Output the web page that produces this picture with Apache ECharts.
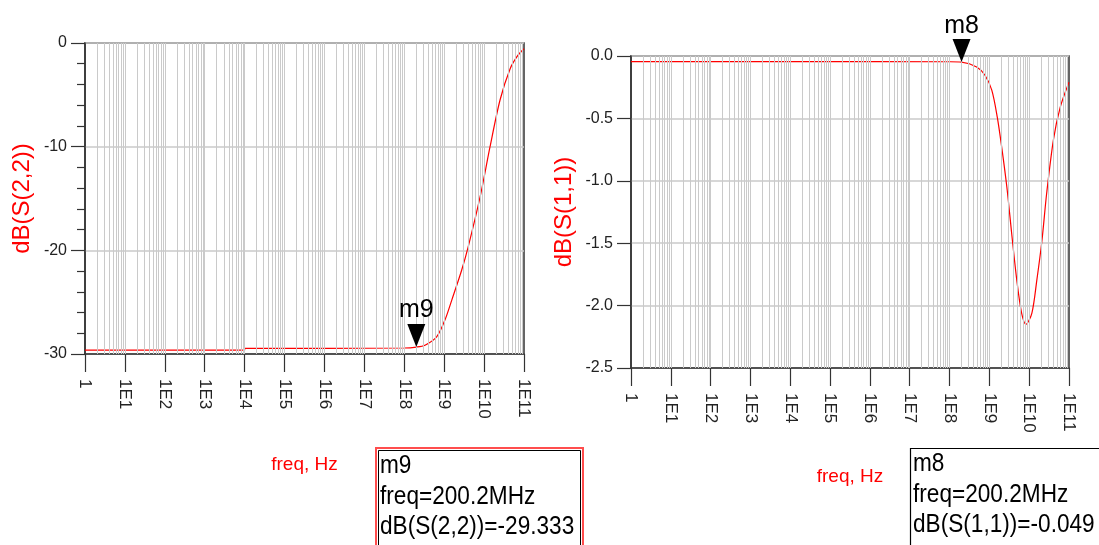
<!DOCTYPE html>
<html><head><meta charset="utf-8">
<script src="https://cdn.jsdelivr.net/npm/echarts@6/dist/echarts.min.js"></script>
<style>html,body{margin:0;padding:0;background:#fff}#c{width:1099px;height:545px}</style>
</head><body><div id="c"></div>
<script>
// ---- data ----
const decadeTicks = [1, 1e1, 1e2, 1e3, 1e4, 1e5, 1e6, 1e7, 1e8, 1e9, 1e10, 1e11];

// dB(S(2,2)) vs frequency (Hz)
const s22Freq = [1, 1e2, 1e4, 1.01e4, 1e6, 1e8, 2.002e8, 3.3e8, 6.46e8, 1.05e9, 1.55e9, 2.75e9, 3.98e9, 7.94e9, 1.41e10, 2.51e10, 4.47e10, 7e10, 1e11];
const s22dB   = [-29.62, -29.62, -29.62, -29.45, -29.45, -29.42, -29.333, -29.15, -28.35, -26.7, -24.8, -21.9, -19.7, -14.85, -10.0, -5.5, -2.5, -1.2, -0.55];

// dB(S(1,1)) vs frequency (Hz)
const s11Freq = [1, 1e4, 1e8, 2.002e8, 4.8e8, 7.76e8, 1.15e9, 1.58e9, 2.04e9, 2.75e9, 3.63e9, 4.9e9, 6.46e9, 8.3e9, 1.17e10, 1.55e10, 2.09e10, 2.75e10, 4.07e10, 6.03e10, 1e11];
const s11dB   = [-0.045, -0.045, -0.046, -0.049, -0.088, -0.154, -0.274, -0.49, -0.73, -1.05, -1.42, -1.8, -2.06, -2.15, -2.06, -1.8, -1.48, -1.1, -0.67, -0.41, -0.21];

const markerM9 = { name: 'm9', freq: 2.002e8, value: -29.333, freqText: '200.2MHz', expr: 'dB(S(2,2))', valText: '-29.333' };
const markerM8 = { name: 'm8', freq: 2.002e8, value: -0.049, freqText: '200.2MHz', expr: 'dB(S(1,1))', valText: '-0.049' };

// ---- chart ----
const AXC = '#333';
const GRIDC = '#cacaca';
const LABF = "Liberation Sans";

const minorGridVals = [];
for (let k = 0; k <= 10; k++) {
  for (let m = 1; m <= 9; m++) {
    const v = m * Math.pow(10, k);
    if (v > 1) minorGridVals.push(v);
  }
}

function zip(a, b) { return a.map((x, i) => [x, b[i]]); }

function xAxisCfg(gi, gap) {
  return {
    type: 'log', logBase: 10, gridIndex: gi, min: 1, max: 1e11,
    name: 'freq, Hz', nameLocation: 'middle', nameGap: gap,
    nameTextStyle: { color: '#ff0000', fontSize: 19, fontFamily: LABF },
    axisLine: { show: true, onZero: false, lineStyle: { color: AXC, width: 1.5 } },
    axisTick: { show: true, customValues: decadeTicks, length: 18, lineStyle: { color: AXC, width: 1.2 } },
    axisLabel: {
      customValues: decadeTicks, rotate: -90, margin: 25, fontSize: 17, color: '#222', fontFamily: LABF,
      formatter: v => (Math.abs(v - 1) < 1e-9 ? '1' : '1E' + Math.round(Math.log10(v)))
    },
    splitLine: { show: false }, minorTick: { show: false }, minorSplitLine: { show: false }
  };
}

function gridLinesSeries(xi, yi) {
  return {
    type: 'line', xAxisIndex: xi, yAxisIndex: yi, data: [], silent: true, z: 1,
    markLine: {
      silent: true, symbol: 'none', animation: false,
      label: { show: false },
      lineStyle: { color: GRIDC, type: 'solid', width: 1 },
      emphasis: { disabled: true },
      data: minorGridVals.map(v => ({ xAxis: v }))
    }
  };
}

function markerCfg(mk) {
  return {
    symbol: 'triangle', symbolRotate: 180, symbolSize: [18, 23], symbolOffset: [0, -11.5],
    itemStyle: { color: '#000' }, animation: false, silent: true,
    label: { show: true, position: 'top', distance: 1, formatter: mk.name, color: '#000', fontSize: 25, fontFamily: LABF },
    data: [{ coord: [mk.freq, mk.value] }]
  };
}

function boxText(x, y, lines) {
  return lines.map((t, i) => ({
    type: 'text', x: x, y: y + i * 30.5, z: 10, scaleX: 0.87, scaleY: 1,
    style: { text: t, fill: '#000', font: "26px 'Liberation Sans'", verticalAlign: 'middle', align: 'left' }
  }));
}

const option = {
  animation: false,
  backgroundColor: '#fff',
  grid: [
    { left: 85, top: 43, width: 439, height: 311, show: true, borderColor: AXC, borderWidth: 1.5, backgroundColor: 'transparent', outerBoundsMode: 'none' },
    { left: 631, top: 56, width: 438, height: 312, show: true, borderColor: AXC, borderWidth: 1.5, backgroundColor: 'transparent', outerBoundsMode: 'none' }
  ],
  xAxis: [xAxisCfg(0, 101), xAxisCfg(1, 99)],
  yAxis: [
    {
      type: 'value', gridIndex: 0, min: -30, max: 0, interval: 10,
      name: 'dB(S(2,2))', nameLocation: 'middle', nameGap: 51,
      nameTextStyle: { color: '#ff0000', fontSize: 24, fontFamily: LABF },
      axisLine: { show: true, lineStyle: { color: AXC, width: 1.5 } },
      axisTick: { show: true, length: 14, lineStyle: { color: AXC, width: 1.2 } },
      minorTick: { show: true, splitNumber: 5, length: 8, lineStyle: { color: AXC, width: 1.2 } },
      axisLabel: { margin: 18, fontSize: 16, color: '#222', fontFamily: LABF },
      splitLine: { show: true, lineStyle: { color: GRIDC, width: 1.5 } }
    },
    {
      type: 'value', gridIndex: 1, min: -2.5, max: 0, interval: 0.5,
      name: 'dB(S(1,1))', nameLocation: 'middle', nameGap: 55,
      nameTextStyle: { color: '#ff0000', fontSize: 24, fontFamily: LABF },
      axisLine: { show: true, lineStyle: { color: AXC, width: 1.5 } },
      axisTick: { show: true, length: 14, lineStyle: { color: AXC, width: 1.2 } },
      axisLabel: { margin: 18, fontSize: 16, color: '#222', fontFamily: LABF, formatter: v => v.toFixed(1) },
      splitLine: { show: true, lineStyle: { color: GRIDC, width: 1.5 } }
    }
  ],
  series: [
    gridLinesSeries(0, 0),
    gridLinesSeries(1, 1),
    {
      name: 'dB(S(2,2))', type: 'line', xAxisIndex: 0, yAxisIndex: 0, z: 3,
      data: zip(s22Freq, s22dB), showSymbol: false, smooth: 0.3,
      lineStyle: { color: '#ff0000', width: 1.2 },
      markPoint: markerCfg(markerM9)
    },
    {
      name: 'dB(S(1,1))', type: 'line', xAxisIndex: 1, yAxisIndex: 1, z: 3,
      data: zip(s11Freq, s11dB), showSymbol: false, smooth: 0.3,
      lineStyle: { color: '#ff0000', width: 1.2 },
      markPoint: markerCfg(markerM8)
    }
  ],
  graphic: [
    { type: 'rect', z: 9, shape: { x: 376, y: 448, width: 207, height: 120 }, style: { fill: '#fff', stroke: '#ff4d4d', lineWidth: 2 } },
    { type: 'rect', z: 9, shape: { x: 378.5, y: 450.5, width: 202, height: 120 }, style: { fill: 'none', stroke: '#000', lineWidth: 1 } },
    ...boxText(380, 466, [markerM9.name, 'freq=' + markerM9.freqText, markerM9.expr + '=' + markerM9.valText]),
    { type: 'rect', z: 9, shape: { x: 910.5, y: 448.5, width: 190, height: 120 }, style: { fill: '#fff', stroke: '#000', lineWidth: 1.2 } },
    ...boxText(913, 464, [markerM8.name, 'freq=' + markerM8.freqText, markerM8.expr + '=' + markerM8.valText])
  ]
};

const chart = echarts.init(document.getElementById('c'), null, { renderer: 'canvas' });
chart.setOption(option);
</script>
</body></html>
